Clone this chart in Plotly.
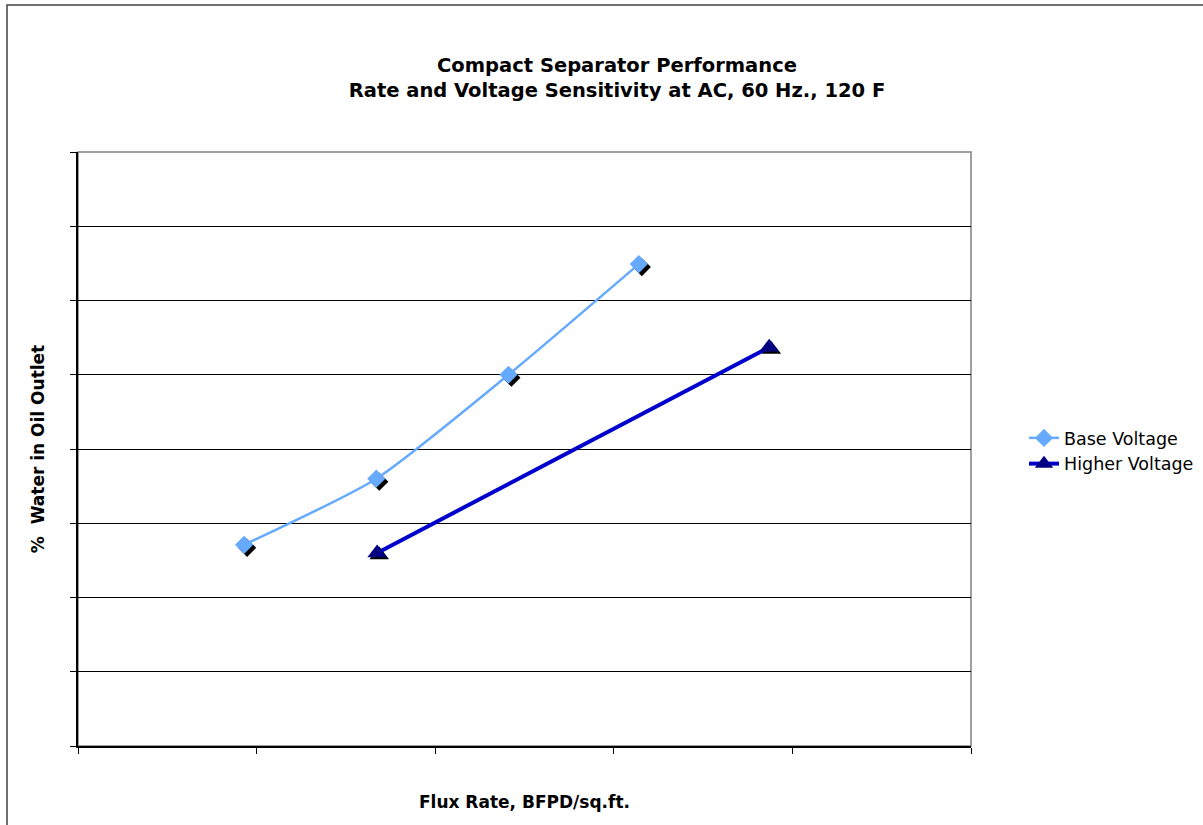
import plotly.graph_objects as go

# Data
base_x = [0.93, 1.67, 2.41, 3.14]
base_y = [2.71, 3.60, 5.00, 6.49]
high_x = [1.675, 3.87]
high_y = [2.60, 5.37]
series_names = ["Base Voltage", "Higher Voltage"]
title_lines = ["Compact Separator Performance", "Rate and Voltage Sensitivity at AC, 60 Hz., 120 F"]
x_title = "Flux Rate, BFPD/sq.ft."
y_title = "%  Water in Oil Outlet"

FONT = "DejaVu Sans, Verdana, sans-serif"
W, H = 1203, 825
L, R, T, B = 78, 971, 152, 746

# shadow offset in data units (approx 3px)
dx = 3 / ((R - L) / 5)
dy = 3 / ((B - T) / 8)

fig = go.Figure()
# marker shadows
fig.add_trace(go.Scatter(x=[v + dx for v in base_x], y=[v - dy for v in base_y], mode="markers",
                         marker=dict(symbol="diamond", size=14, color="black"),
                         showlegend=False, hoverinfo="skip"))
fig.add_trace(go.Scatter(x=[v + dx * 0.7 for v in high_x], y=[v - dy * 0.7 for v in high_y], mode="markers",
                         marker=dict(symbol="triangle-up", size=17, color="black"),
                         showlegend=False, hoverinfo="skip"))
fig.add_trace(go.Scatter(x=base_x, y=base_y, mode="lines+markers", name=series_names[0],
                         line=dict(color="#66AAFF", width=2.5, shape="spline", smoothing=0.6),
                         marker=dict(symbol="diamond", size=14, color="#66AAFF")))
fig.add_trace(go.Scatter(x=high_x, y=high_y, mode="lines+markers", name=series_names[1],
                         line=dict(color="#0000CC", width=4),
                         marker=dict(symbol="triangle-up", size=17, color="#000080")))

fig.update_layout(
    width=W, height=H, autosize=False,
    margin=dict(l=L, r=W - R, t=T, b=H - B, autoexpand=False),
    paper_bgcolor="white", plot_bgcolor="white",
    font=dict(family=FONT, color="black"),
    title=dict(text="<b>" + title_lines[0] + "<br>" + title_lines[1] + "</b>",
               x=617 / W, xanchor="center", y=1 - 72 / H, yanchor="middle",
               font=dict(size=19.5, family=FONT)),
    showlegend=True,
    legend=dict(x=(1024 - L) / (R - L), xanchor="left", y=(B - 451) / (B - T), yanchor="middle",
                font=dict(size=17.5, family=FONT), bgcolor="rgba(0,0,0,0)",
                tracegroupgap=0),
    xaxis=dict(range=[0, 5], dtick=1, tick0=0, showticklabels=False, showgrid=False,
               zeroline=False, showline=True, linecolor="black", linewidth=1.5,
               ticks="outside", ticklen=6, tickcolor="black", tickwidth=1, automargin=False,
               title=dict(text="<b>" + x_title + "</b>", font=dict(size=17, family=FONT), standoff=43)),
    yaxis=dict(range=[0, 8], dtick=1, tick0=0, showticklabels=False, showgrid=True,
               gridcolor="black", gridwidth=1, zeroline=False, showline=True,
               linecolor="black", linewidth=1.5, automargin=False,
               ticks="outside", ticklen=6, tickcolor="black", tickwidth=1,
               title=dict(text="<b>" + y_title + "</b>", font=dict(size=17, family=FONT), standoff=21)),
    shapes=[
        dict(type="rect", xref="paper", yref="paper", x0=0, x1=1, y0=0, y1=1,
             line=dict(color="#808080", width=1.5), layer="below"),
        dict(type="rect", xref="paper", yref="paper",
             x0=(7 - L) / (R - L), x1=(1230 - L) / (R - L),
             y0=(B - 860) / (B - T), y1=(B - 5) / (B - T),
             line=dict(color="#404040", width=1.5), layer="below"),
    ],
)

fig.write_html("out.html",
               config={"displayModeBar": False, "responsive": False},
               post_script=("document.body.style.margin='0px';document.body.style.overflow='hidden';"
                            "Plotly.relayout(document.getElementById('{plot_id}'), {width: %d, height: %d});" % (W, H)))
